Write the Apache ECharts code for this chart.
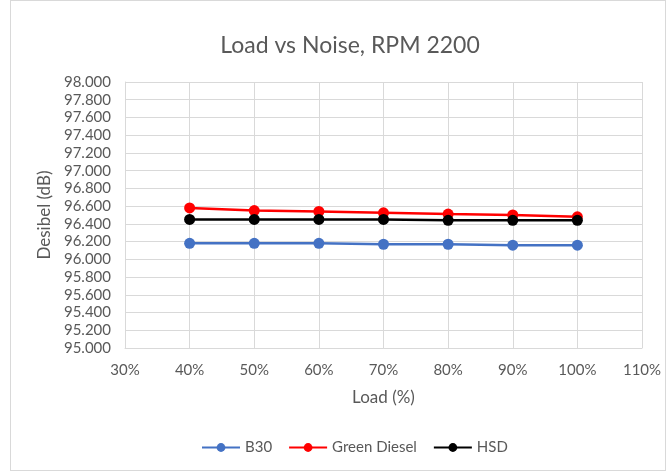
<!DOCTYPE html>
<html><head><meta charset="utf-8">
<script src="https://cdn.jsdelivr.net/npm/echarts@6/dist/echarts.min.js"></script>
<style>
html,body{margin:0;padding:0;background:#fff;}
#frame{position:absolute;left:10px;top:0;width:656px;height:471px;border:1px solid #d9d9d9;box-sizing:border-box;}
#chart{position:absolute;left:0;top:0;width:669px;height:473px;}
</style></head>
<body>
<div id="frame"></div>
<div id="chart"></div>
<script>
const loads = [40, 50, 60, 70, 80, 90, 100];
const b30 = [96.18, 96.18, 96.18, 96.17, 96.17, 96.16, 96.16];
const greenDiesel = [96.58, 96.55, 96.54, 96.525, 96.51, 96.50, 96.48];
const hsd = [96.45, 96.45, 96.45, 96.45, 96.44, 96.44, 96.44];
const seriesNames = ['B30', 'Green Diesel', 'HSD'];
const seriesColors = ['#4472c4', '#ff0000', '#000000'];

const pair = arr => loads.map((x, i) => [x, arr[i]]);
const font = 'Lato, "Open Sans", sans-serif';
const chart = echarts.init(document.getElementById('chart'));
chart.setOption({
  animation: false,
  title: {text: 'Load vs Noise, RPM 2200', left: 345, top: 29, textAlign: 'center',
    textStyle: {fontFamily: font, fontSize: 23, fontWeight: 'normal', color: '#595959'}},
  grid: {left: 125, right: 27, top: 82, bottom: 125},
  legend: {bottom: 13, left: 196, itemWidth: 38, itemHeight: 11, itemGap: 16,
    textStyle: {fontFamily: font, fontSize: 15, color: '#595959'},
    data: seriesNames},
  xAxis: {type: 'value', min: 30, max: 110, interval: 10,
    name: 'Load (%)', nameLocation: 'middle', nameGap: 41,
    nameTextStyle: {fontFamily: font, fontSize: 17, color: '#595959'},
    axisLine: {show: true, lineStyle: {color: '#d9d9d9'}}, axisTick: {show: false},
    axisLabel: {formatter: '{value}%', fontFamily: font, fontSize: 15, color: '#595959', margin: 15},
    splitLine: {show: true, lineStyle: {color: '#d9d9d9'}}},
  yAxis: {type: 'value', min: 95, max: 98, interval: 0.2,
    name: 'Desibel (dB)', nameLocation: 'middle', nameGap: 71,
    nameTextStyle: {fontFamily: font, fontSize: 17, color: '#595959'},
    axisLine: {show: true, lineStyle: {color: '#d9d9d9'}}, axisTick: {show: false},
    axisLabel: {formatter: v => v.toFixed(3), fontFamily: font, fontSize: 15, color: '#595959', margin: 14},
    splitLine: {show: true, lineStyle: {color: '#d9d9d9'}}},
  series: [b30, greenDiesel, hsd].map((d, i) => ({
    name: seriesNames[i], type: 'line', data: pair(d),
    symbol: 'circle', symbolSize: 11,
    lineStyle: {width: 2.5, color: seriesColors[i]},
    itemStyle: {color: seriesColors[i]}
  }))
});
</script>
</body></html>
